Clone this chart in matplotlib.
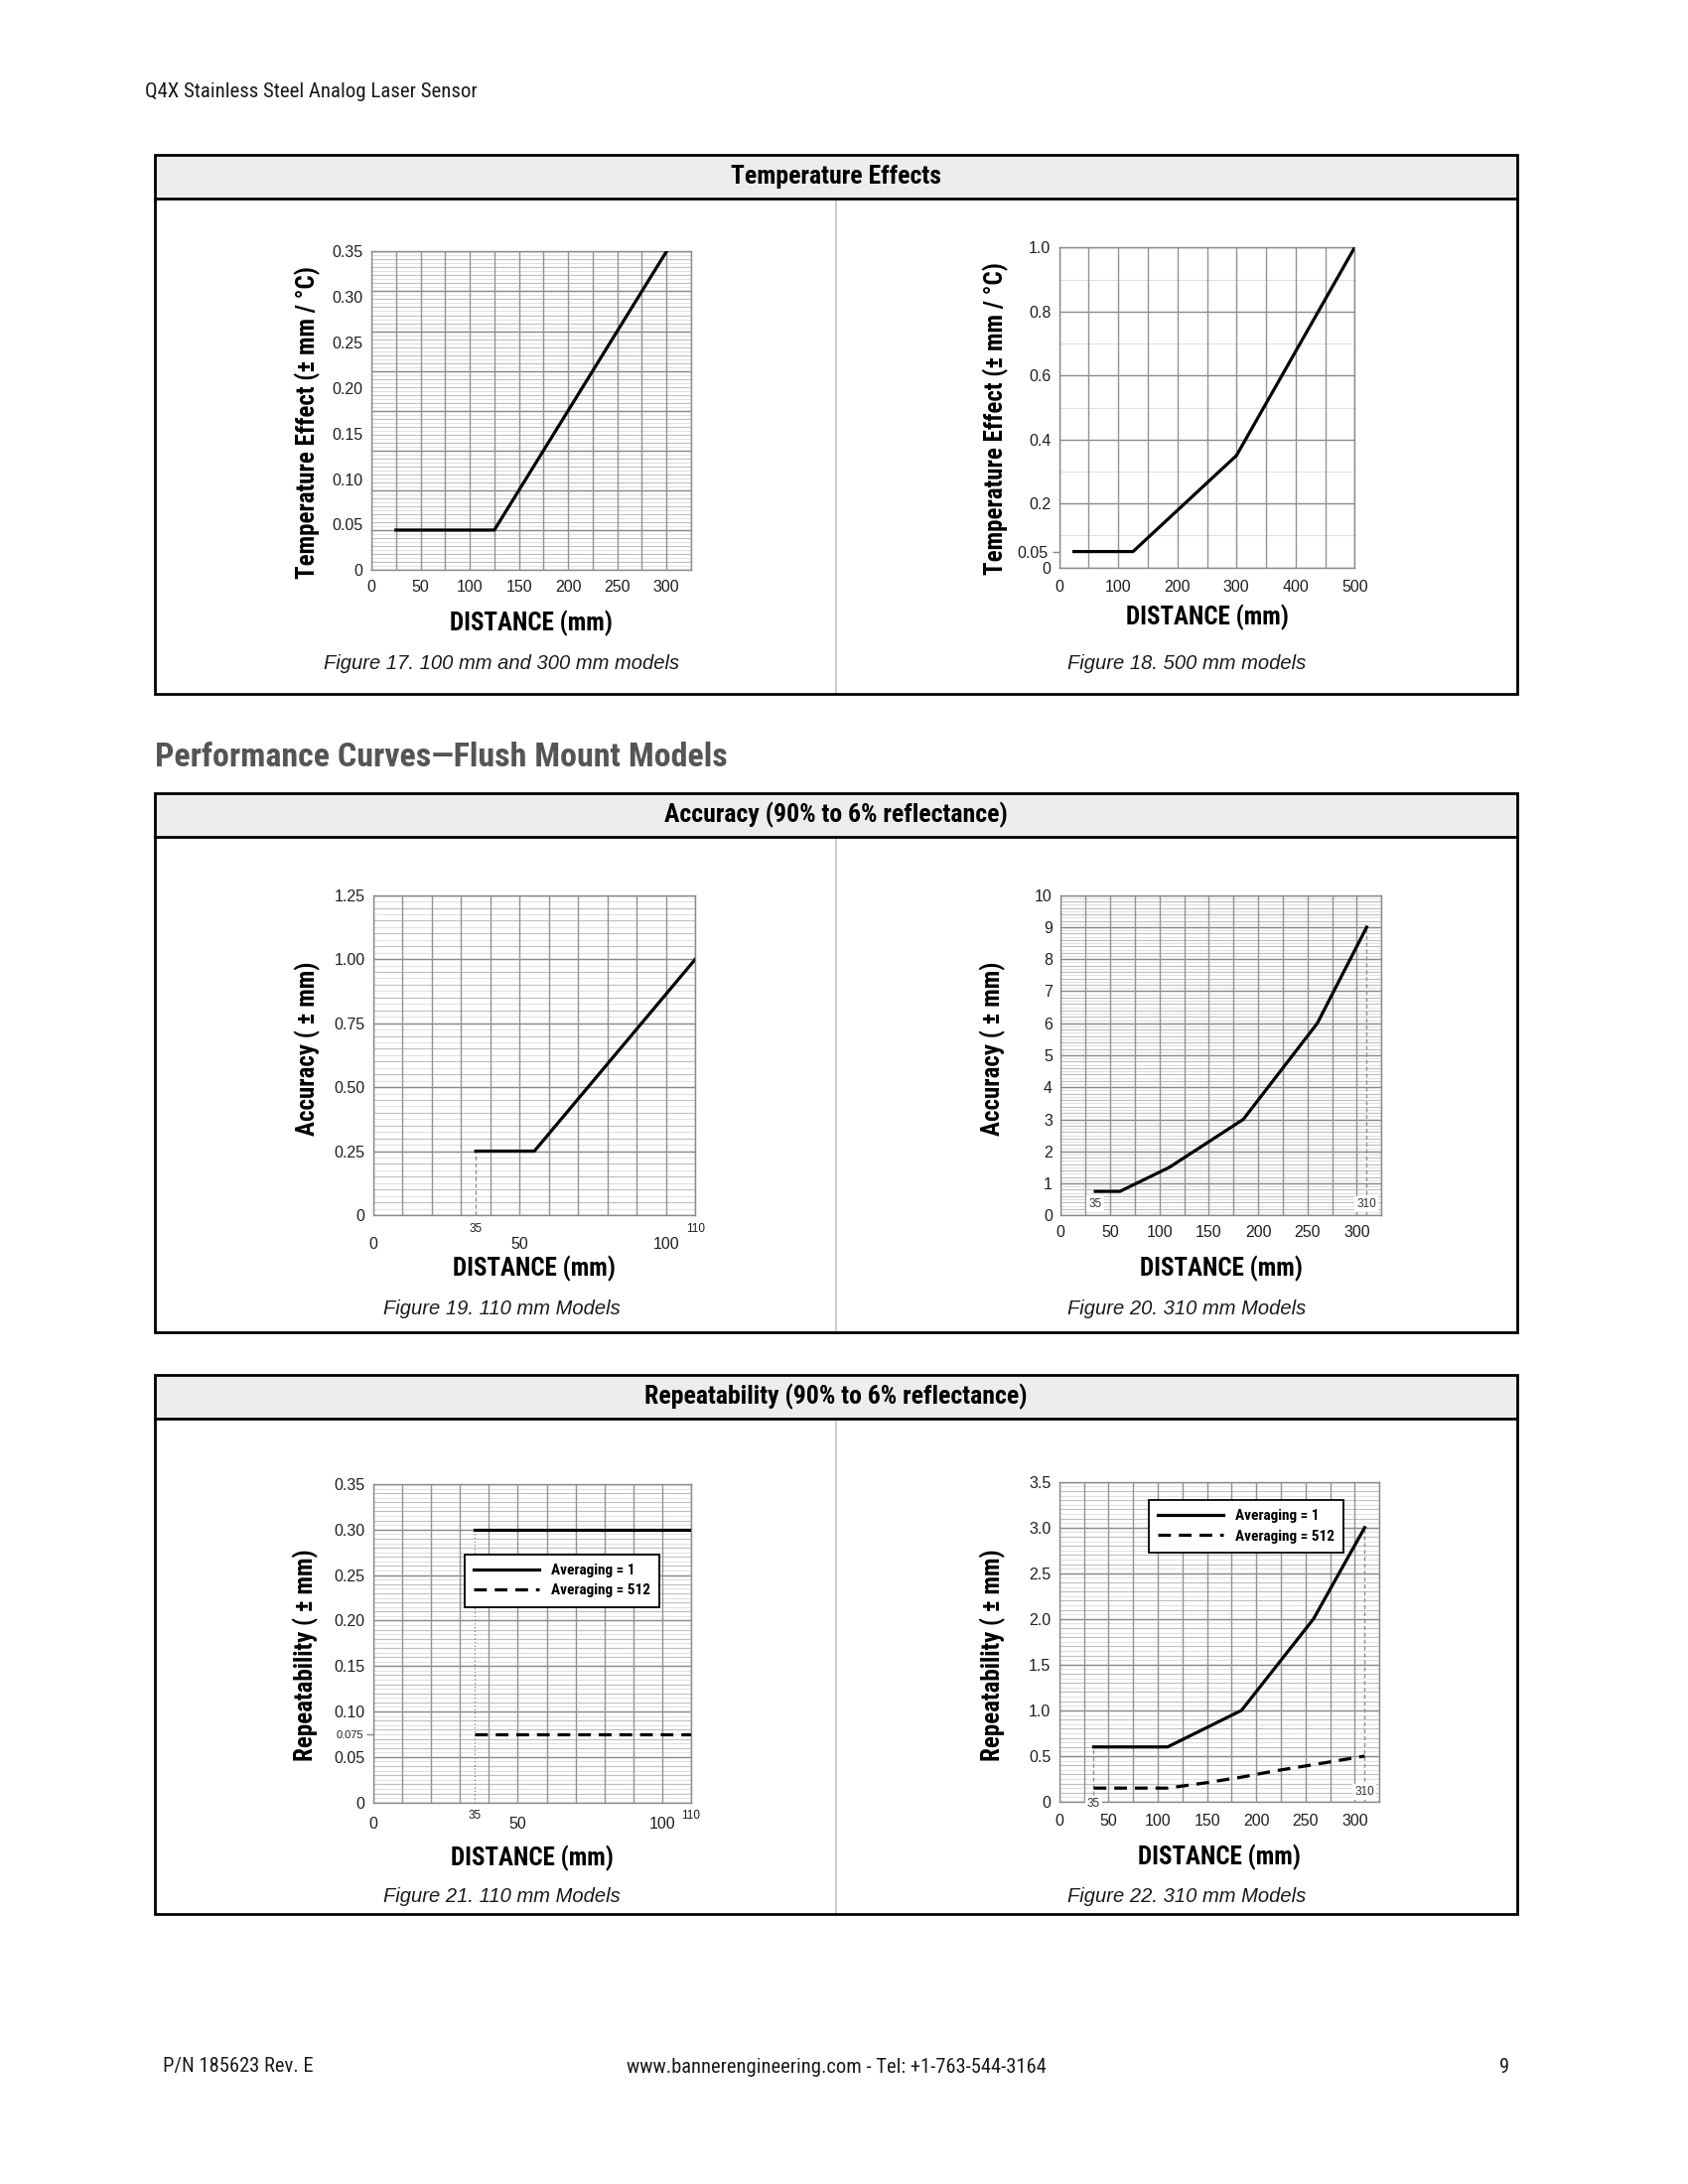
import matplotlib
matplotlib.use('Agg')
import matplotlib.pyplot as plt
from matplotlib import font_manager
from matplotlib.patches import Rectangle
import numpy as np

# ---- values ----
fig17_x = [25, 125, 300]
fig17_y = [0.044, 0.044, 0.35]
fig17_xticks = [0, 50, 100, 150, 200, 250, 300]
fig17_yticks = [0, 0.05, 0.10, 0.15, 0.20, 0.25, 0.30, 0.35]
fig17_ylabels = ['0', '0.05', '0.10', '0.15', '0.20', '0.25', '0.30', '0.35']

fig18_x = [25, 125, 300, 500]
fig18_y = [0.05, 0.05, 0.35, 1.0]
fig18_xticks = [0, 100, 200, 300, 400, 500]
fig18_yticks = [0, 0.2, 0.4, 0.6, 0.8, 1.0]
fig18_ylabels = ['0', '0.2', '0.4', '0.6', '0.8', '1.0']
fig18_ymark = [0.05]

fig19_x = [35, 55, 110]
fig19_y = [0.25, 0.25, 1.0]
fig19_xticks = [0, 50, 100]
fig19_xmarks = [35, 110]
fig19_yticks = [0, 0.25, 0.50, 0.75, 1.00, 1.25]
fig19_ylabels = ['0', '0.25', '0.50', '0.75', '1.00', '1.25']

fig20_x = [35, 60, 110, 185, 260, 310]
fig20_y = [0.75, 0.75, 1.5, 3.0, 6.0, 9.0]
fig20_xticks = [0, 50, 100, 150, 200, 250, 300]
fig20_yticks = [0, 1, 2, 3, 4, 5, 6, 7, 8, 9, 10]

fig21_x = [35, 110]
fig21_avg1 = [0.30, 0.30]
fig21_avg512 = [0.075, 0.075]
fig21_xticks = [0, 50, 100]
fig21_xmarks = [35, 110]
fig21_yticks = [0, 0.05, 0.10, 0.15, 0.20, 0.25, 0.30, 0.35]
fig21_ylabels = ['0', '0.05', '0.10', '0.15', '0.20', '0.25', '0.30', '0.35']
fig21_ymark = [0.075]

fig22_x1 = [35, 110, 185, 258, 310]
fig22_avg1 = [0.6, 0.6, 1.0, 2.0, 3.0]
fig22_x512 = [35, 110, 150, 185, 220, 260, 310]
fig22_avg512 = [0.15, 0.15, 0.21, 0.27, 0.34, 0.41, 0.5]
fig22_xticks = [0, 50, 100, 150, 200, 250, 300]
fig22_yticks = [0, 0.5, 1.0, 1.5, 2.0, 2.5, 3.0, 3.5]
fig22_ylabels = ['0', '0.5', '1.0', '1.5', '2.0', '2.5', '3.0', '3.5']

legend_labels = ['Averaging = 1', 'Averaging = 512']

# ---- fonts ----
names = {f.name for f in font_manager.fontManager.ttflist}
NARROW = 'Liberation Sans'
for cand in ['Liberation Sans Narrow', 'Roboto Condensed']:
    if cand in names:
        NARROW = cand
        break
sq = 1.0 if NARROW != 'Liberation Sans' else 0.83
plt.rcParams['font.family'] = ['Liberation Sans', 'DejaVu Sans']

W, H = 1700, 2200
fig = plt.figure(figsize=(17, 22), dpi=100)
bg = fig.add_axes([0, 0, 1, 1])
bg.set_xlim(0, W)
bg.set_ylim(H, 0)
bg.axis('off')


def axes_px(x0, y0, x1, y1):
    ax = fig.add_axes([x0 / W, 1 - y1 / H, (x1 - x0) / W, (y1 - y0) / H])
    ax.px = (x0, y0, x1, y1)
    return ax


def base(ax, xlim, ylim, xgrid, ymaj, ymid, ylig):
    ax.set_xlim(*xlim)
    ax.set_ylim(*ylim)
    yt = ax.get_yaxis_transform()
    xt = ax.get_xaxis_transform()
    if len(ylig):
        ax.hlines(ylig, 0, 1, transform=yt, colors='#e1e1e1', lw=0.8, zorder=1)
    if len(ymid):
        ax.hlines(ymid, 0, 1, transform=yt, colors='#c0c0c0', lw=0.8, zorder=1.1)
    ax.hlines(ymaj, 0, 1, transform=yt, colors='#8a8a8a', lw=1.0, zorder=1.2)
    ax.vlines(xgrid, 0, 1, transform=xt, colors='#939393', lw=1.0, zorder=1.2)
    for s in ax.spines.values():
        s.set_color('#8a8a8a')
        s.set_linewidth(1.0)
    ax.tick_params(which='both', length=0, labelsize=11.5, labelcolor='#1e1e1e')
    ax.tick_params(axis='y', which='both', pad=6)


def labels(ax, ylabel, ylab_x, ylab_y, xlab_y):
    x0, y0, x1, y1 = ax.px
    ax.set_xlabel('DISTANCE (mm)', fontfamily=NARROW, fontweight='bold', fontsize=18 * sq)
    ax.xaxis.set_label_coords(0.5, -(xlab_y - y1) / (y1 - y0))
    ax.xaxis.label.set_va('center')
    ax.set_ylabel(ylabel, fontfamily=NARROW, fontweight='bold', fontsize=18 * sq)
    ax.yaxis.set_label_coords(-(x0 - ylab_x) / (x1 - x0), (y1 - ylab_y) / (y1 - y0))
    ax.yaxis.label.set_va('center')


# ---- page furniture ----
bg.text(146, 93, 'Q4X Stainless Steel Analog Laser Sensor', fontfamily=NARROW,
        fontsize=15 * sq, va='center', ha='left', color='#1a1a1a')
bg.text(156, 763, 'Performance Curves\u2014Flush Mount Models', fontfamily=NARROW,
        fontweight='bold', fontsize=24.5 * sq, va='center', ha='left', color='#555555')
bg.text(164, 2082, 'P/N 185623 Rev. E', fontfamily=NARROW, fontsize=14.8 * sq,
        va='center', ha='left', color='#1a1a1a')
bg.text(842, 2082, 'www.bannerengineering.com - Tel: +1-763-544-3164', fontfamily=NARROW,
        fontsize=14.8 * sq, va='center', ha='center', color='#1a1a1a')
bg.text(1520, 2082, '9', fontfamily=NARROW, fontsize=14.8 * sq, va='center', ha='right',
        color='#1a1a1a')

boxes = [(156, 699, 'Temperature Effects'),
         (799, 1342, 'Accuracy (90% to 6% reflectance)'),
         (1385, 1928, 'Repeatability (90% to 6% reflectance)')]
for top, bottom, title in boxes:
    bg.add_patch(Rectangle((156, top), 1372, 44, facecolor='#ededed', edgecolor='none', zorder=1))
    bg.plot([842, 842], [top + 44, bottom], color='#c4c4c4', lw=1.2, zorder=2)
    bg.plot([156, 1528], [top + 44, top + 44], color='black', lw=2.0, zorder=3)
    bg.add_patch(Rectangle((156, top), 1372, bottom - top, facecolor='none',
                           edgecolor='black', lw=2.0, zorder=3))
    bg.text(842, top + 22, title, fontfamily=NARROW, fontweight='bold', fontsize=18.5 * sq,
            ha='center', va='center', color='black', zorder=4)

captions = [(505, 668, 'Figure 17. 100 mm and 300 mm models'),
            (1195, 668, 'Figure 18. 500 mm models'),
            (505, 1318, 'Figure 19. 110 mm Models'),
            (1195, 1318, 'Figure 20. 310 mm Models'),
            (505, 1910, 'Figure 21. 110 mm Models'),
            (1195, 1910, 'Figure 22. 310 mm Models')]
for cx, cy, txt in captions:
    bg.text(cx, cy, txt, fontstyle='italic', fontsize=14.5, ha='center', va='center',
            color='#1a1a1a')

LW = 2.3
DASH = (4, 2.5)

# ---- Figure 17 ----
ax = axes_px(374, 253.3, 696, 574.3)
base(ax, (0, 325), (0, 0.35), np.arange(0, 326, 25),
     np.linspace(0, 0.35, 9), np.linspace(0, 0.35, 41), np.linspace(0, 0.35, 81))
ax.plot(fig17_x, fig17_y, color='black', lw=LW, zorder=5, solid_joinstyle='miter')
ax.set_xticks(fig17_xticks)
ax.set_yticks(fig17_yticks, fig17_ylabels)
ax.tick_params(axis='x', pad=7)
labels(ax, 'Temperature Effect (\u00b1 mm / \u00b0C)', 310, 426, 628)

# ---- Figure 18 ----
ax = axes_px(1066.7, 249.3, 1364.3, 571.7)
base(ax, (0, 500), (0, 1.0), np.arange(0, 501, 50),
     np.arange(0, 1.01, 0.2), [], np.arange(0.1, 1.0, 0.2))
ax.plot(fig18_x, fig18_y, color='black', lw=LW, zorder=5)
ax.set_xticks(fig18_xticks)
ax.set_yticks(fig18_yticks, fig18_ylabels)
ax.set_yticks(fig18_ymark, ['0.05'], minor=True)
ax.tick_params(axis='y', which='minor', length=5, width=1.0, color='#8a8a8a', pad=3)
ax.tick_params(axis='x', pad=9)
labels(ax, 'Temperature Effect (\u00b1 mm / \u00b0C)', 1003, 422, 622)

# ---- Figure 19 ----
ax = axes_px(376, 901.7, 700.3, 1224)
base(ax, (0, 110), (0, 1.25), np.arange(0, 111, 10),
     np.arange(0, 1.26, 0.25), np.linspace(0, 1.25, 26), np.linspace(0, 1.25, 51))
ax.plot(fig19_x, fig19_y, color='black', lw=LW, zorder=5)
ax.vlines(fig19_x[0], 0, fig19_y[0], colors='#909090', lw=1.0, linestyles=(0, (3, 2)), zorder=4)
ax.set_xticks(fig19_xticks)
ax.set_xticks(fig19_xmarks, [str(v) for v in fig19_xmarks], minor=True)
ax.tick_params(axis='x', which='major', pad=16)
ax.tick_params(axis='x', which='minor', pad=6, labelsize=8.5)
ax.set_yticks(fig19_yticks, fig19_ylabels)
labels(ax, 'Accuracy ( \u00b1 mm)', 310, 1056, 1278)

# ---- Figure 20 ----
ax = axes_px(1068.3, 901.7, 1391.3, 1224.3)
base(ax, (0, 325), (0, 10), np.arange(0, 326, 25),
     np.arange(0, 11, 1), np.linspace(0, 10, 51), np.linspace(0, 10, 101))
ax.plot(fig20_x, fig20_y, color='black', lw=LW, zorder=5)
ax.vlines(fig20_x[-1], 0, fig20_y[-1], colors='#909090', lw=1.0, linestyles=(0, (3, 2)), zorder=4)
for xv in (fig20_x[0], fig20_x[-1]):
    ax.text(xv, 0.36, str(xv), fontsize=8.5, ha='center', va='center', color='#333333', zorder=6,
            bbox=dict(facecolor='white', edgecolor='none', pad=1.5))
ax.set_xticks(fig20_xticks)
ax.set_yticks(fig20_yticks)
ax.tick_params(axis='x', pad=7)
labels(ax, 'Accuracy ( \u00b1 mm)', 1000, 1056, 1278)

# ---- Figure 21 ----
ax = axes_px(376, 1495, 696, 1815.7)
base(ax, (0, 110), (0, 0.35), np.arange(0, 111, 10),
     np.linspace(0, 0.35, 8), np.linspace(0, 0.35, 36), np.linspace(0, 0.35, 71))
l1, = ax.plot(fig21_x, fig21_avg1, color='black', lw=LW, zorder=5)
l2, = ax.plot(fig21_x, fig21_avg512, color='black', lw=LW, dashes=DASH, zorder=5)
ax.vlines(fig21_x[0], 0, fig21_avg1[0], colors='#808080', lw=0.9, linestyles=(0, (1, 2)), zorder=4)
ax.set_xticks(fig21_xticks)
ax.set_xticks(fig21_xmarks, [str(v) for v in fig21_xmarks], minor=True)
ax.tick_params(axis='x', which='major', pad=10)
ax.tick_params(axis='x', which='minor', pad=5, labelsize=8.5)
ax.set_yticks(fig21_yticks, fig21_ylabels)
ax.set_yticks(fig21_ymark, ['0.075'], minor=True)
ax.tick_params(axis='y', which='minor', length=5, width=1.0, color='#8a8a8a', pad=2, labelsize=8)
leg = ax.legend([l1, l2], legend_labels, loc='upper left', bbox_to_anchor=(0.288, 0.779),
                borderaxespad=0, fancybox=False, framealpha=1, edgecolor='black',
                handlelength=4.3, handletextpad=0.8, labelspacing=0.42, borderpad=0.6,
                prop=dict(family=NARROW, weight='bold', size=11 * sq))
leg.get_frame().set_linewidth(1.3)
leg.set_zorder(7)
labels(ax, 'Repeatability ( \u00b1 mm)', 308, 1667, 1872)

# ---- Figure 22 ----
ax = axes_px(1066.7, 1492.7, 1389.3, 1815)
base(ax, (0, 325), (0, 3.5), np.arange(0, 326, 25),
     np.arange(0, 3.51, 0.5), np.linspace(0, 3.5, 36), np.linspace(0, 3.5, 71))
l1, = ax.plot(fig22_x1, fig22_avg1, color='black', lw=LW, zorder=5)
l2, = ax.plot(fig22_x512, fig22_avg512, color='black', lw=LW, dashes=DASH, zorder=5)
ax.vlines(fig22_x1[0], 0, fig22_avg1[0], colors='#909090', lw=1.0, linestyles=(0, (3, 2)), zorder=4)
ax.vlines(fig22_x1[-1], 0, fig22_avg1[-1], colors='#909090', lw=1.0, linestyles=(0, (3, 2)), zorder=4)
ax.text(fig22_x1[-1], 0.11, str(fig22_x1[-1]), fontsize=8.5, ha='center', va='center',
        color='#333333', zorder=6, bbox=dict(facecolor='white', edgecolor='none', pad=1.5))
ax.text(fig22_x1[0], -0.02, str(fig22_x1[0]), fontsize=8.5, ha='center', va='center',
        color='#333333', zorder=6, clip_on=False,
        bbox=dict(facecolor='white', edgecolor='none', pad=1.5))
ax.set_xticks(fig22_xticks)
ax.set_yticks(fig22_yticks, fig22_ylabels)
ax.tick_params(axis='x', pad=8.5)
leg = ax.legend([l1, l2], legend_labels, loc='upper left', bbox_to_anchor=(0.279, 0.943),
                borderaxespad=0, fancybox=False, framealpha=1, edgecolor='black',
                handlelength=4.3, handletextpad=0.8, labelspacing=0.42, borderpad=0.6,
                prop=dict(family=NARROW, weight='bold', size=11 * sq))
leg.get_frame().set_linewidth(1.3)
leg.set_zorder(7)
labels(ax, 'Repeatability ( \u00b1 mm)', 1000, 1667, 1871)

fig.savefig('out.png', dpi=100, facecolor='white')
